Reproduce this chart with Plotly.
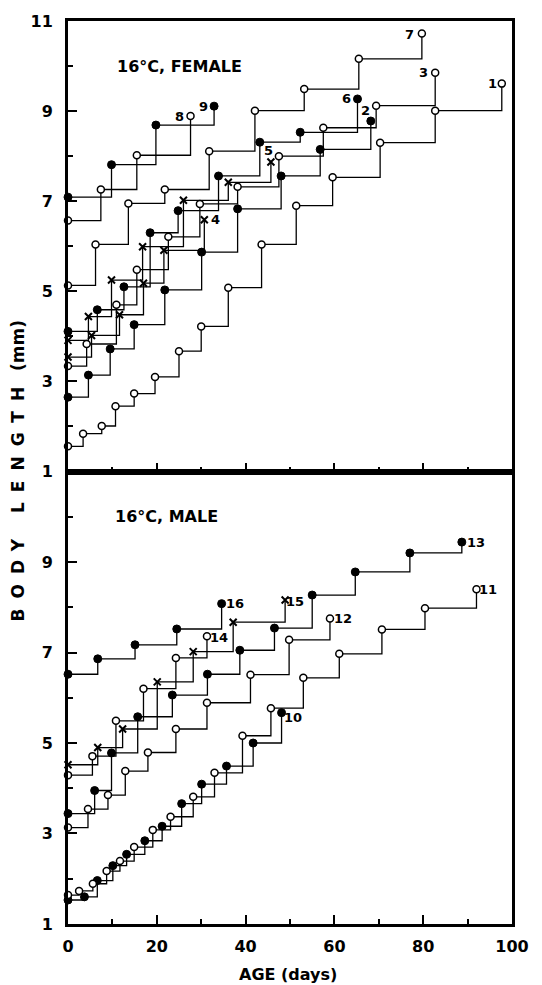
import plotly.graph_objects as go

# ---------------- data ----------------
# 16 C, FEMALE  (age in days, body length in mm)
f1_day = [0, 3.4, 7.6, 10.7, 14.9, 19.6, 25.0, 30.0, 36.1, 43.6, 51.4, 59.6, 70.3, 82.7, 97.7]
f1_len = [1.56, 1.84, 2.01, 2.45, 2.73, 3.10, 3.67, 4.22, 5.08, 6.04, 6.90, 7.53, 8.30, 9.01, 9.61]
f2_day = [0, 4.6, 9.5, 14.9, 21.8, 30.1, 38.2, 48.0, 56.8, 68.2]
f2_len = [2.65, 3.14, 3.72, 4.26, 5.03, 5.87, 6.83, 7.56, 8.15, 8.78]
f3_day = [0, 4.2, 10.9, 15.5, 22.6, 29.7, 38.2, 47.5, 57.5, 69.4, 82.7]
f3_len = [3.34, 3.83, 4.70, 5.48, 6.21, 6.94, 7.32, 8.00, 8.63, 9.12, 9.85]
f4_day = [0, 5.3, 11.6, 17.0, 21.6, 30.7]
f4_len = [3.54, 4.02, 4.48, 5.18, 5.91, 6.59]
f5_day = [0, 4.6, 9.8, 16.8, 26.0, 36.1, 45.7]
f5_len = [3.91, 4.44, 5.25, 5.99, 7.02, 7.42, 7.87]
f6_day = [0, 6.6, 12.6, 18.5, 24.8, 33.9, 43.2, 52.3, 65.2]
f6_len = [4.11, 4.59, 5.10, 6.30, 6.79, 7.56, 8.31, 8.53, 9.27]
f7_day = [0, 6.2, 13.6, 21.8, 31.8, 42.1, 53.2, 65.5, 79.7]
f7_len = [5.13, 6.04, 6.95, 7.26, 8.11, 9.01, 9.49, 10.16, 10.72]
f8_day = [0, 7.4, 15.5, 27.6]
f8_len = [6.57, 7.26, 8.02, 8.89]
f9_day = [0, 9.8, 19.8, 32.9]
f9_len = [7.09, 7.81, 8.69, 9.11]

# 16 C, MALE
m10_day = [0, 3.7, 6.6, 10.1, 13.2, 17.3, 21.2, 25.6, 30.1, 35.7, 41.7, 48.1]
m10_len = [1.53, 1.60, 1.96, 2.29, 2.54, 2.84, 3.16, 3.66, 4.09, 4.49, 5.00, 5.67]
m11_day = [0, 2.5, 5.6, 8.7, 11.7, 14.9, 19.1, 23.1, 28.2, 33.0, 39.3, 45.7, 53.0, 61.1, 70.7, 80.4, 92.0]
m11_len = [1.64, 1.73, 1.89, 2.17, 2.39, 2.70, 3.08, 3.37, 3.81, 4.34, 5.16, 5.77, 6.44, 6.97, 7.51, 7.98, 8.40]
m12_day = [0, 4.5, 9.0, 12.9, 18.0, 24.3, 31.3, 41.1, 49.8, 59.0]
m12_len = [3.13, 3.54, 3.85, 4.38, 4.79, 5.31, 5.89, 6.51, 7.28, 7.75]
m13_day = [0, 6.0, 9.8, 15.7, 23.5, 31.4, 38.7, 46.5, 55.0, 64.7, 77.0, 88.7]
m13_len = [3.44, 3.95, 4.78, 5.58, 6.06, 6.52, 7.05, 7.54, 8.27, 8.78, 9.20, 9.44]
m14_day = [0, 5.5, 10.8, 17.0, 24.3, 31.3]
m14_len = [4.29, 4.71, 5.49, 6.20, 6.88, 7.36]
m15_day = [0, 6.7, 12.3, 20.1, 28.2, 37.2, 48.9]
m15_len = [4.52, 4.90, 5.31, 6.35, 7.02, 7.67, 8.16]
m16_day = [0, 6.7, 15.1, 24.5, 34.6]
m16_len = [6.52, 6.86, 7.17, 7.52, 8.08]

series_labels = ["1", "2", "3", "4", "5", "6", "7", "8", "9",
                 "10", "11", "12", "13", "14", "15", "16"]
x_ticks = [0, 20, 40, 60, 80, 100]
y_ticks = [1, 3, 5, 7, 9, 11]
panel_titles = ["16°C, FEMALE", "16°C, MALE"]

# ---------------- styling ----------------
FONT = "DejaVu Sans"
OPEN = dict(symbol="circle", size=7, color="white", line=dict(color="black", width=1.5))
FILL = dict(symbol="circle", size=8, color="black", line=dict(color="black", width=1))
CROSS = dict(symbol="x-thin", size=7, color="black", line=dict(color="black", width=2))

# (days, lengths, marker, panel, label dx px, label dy px (down +))
series = [
    (f1_day, f1_len, OPEN, 1, -9, 0),
    (f2_day, f2_len, FILL, 1, -5, -11),
    (f3_day, f3_len, OPEN, 1, -12, 0),
    (f4_day, f4_len, CROSS, 1, 11, 0),
    (f5_day, f5_len, CROSS, 1, -2, -12),
    (f6_day, f6_len, FILL, 1, -11, 0),
    (f7_day, f7_len, OPEN, 1, -12, 1),
    (f8_day, f8_len, OPEN, 1, -11, 0),
    (f9_day, f9_len, FILL, 1, -11, 0),
    (m10_day, m10_len, FILL, 2, 11, 5),
    (m11_day, m11_len, OPEN, 2, 12, 0),
    (m12_day, m12_len, OPEN, 2, 13, 0),
    (m13_day, m13_len, FILL, 2, 14, 0),
    (m14_day, m14_len, OPEN, 2, 12, 1),
    (m15_day, m15_len, CROSS, 2, 10, 1),
    (m16_day, m16_len, FILL, 2, 13, 0),
]

fig = go.Figure()
annotations = []
for lab, (d, L, mk, panel, dx, dy) in zip(series_labels, series):
    xa = "x" if panel == 1 else "x2"
    ya = "y" if panel == 1 else "y2"
    fig.add_trace(go.Scatter(
        x=d, y=L, mode="lines+markers", xaxis=xa, yaxis=ya,
        line=dict(color="black", width=1.3, shape="hv"),
        marker=mk, cliponaxis=False, showlegend=False, hoverinfo="x+y"))
    annotations.append(dict(
        x=d[-1], y=L[-1], xref=xa, yref=ya, text=lab, showarrow=False,
        xanchor="center", yanchor="middle", xshift=dx, yshift=-dy,
        font=dict(family=FONT, size=13, color="black", weight="bold")))

annotations.append(dict(x=10.6, y=9.99, xref="x", yref="y", text=panel_titles[0],
                        showarrow=False, xanchor="left", yanchor="middle",
                        font=dict(family=FONT, size=16, color="black", weight="bold")))
annotations.append(dict(x=10.2, y=10.0, xref="x2", yref="y2", text=panel_titles[1],
                        showarrow=False, xanchor="left", yanchor="middle",
                        font=dict(family=FONT, size=16, color="black", weight="bold")))
annotations.append(dict(x=0.495, y=-0.056, xref="paper", yref="paper", text="AGE (days)",
                        showarrow=False, xanchor="center", yanchor="middle",
                        font=dict(family=FONT, size=16, color="black", weight="bold")))
annotations.append(dict(x=-0.113, y=0.502, xref="paper", yref="paper",
                        text='<span style="letter-spacing:10px">BODY LENGTH</span> (mm)',
                        textangle=-90, showarrow=False, xanchor="center", yanchor="middle",
                        font=dict(family=FONT, size=17, color="black", weight="bold")))

tickfont = dict(family=FONT, size=16, color="black", weight="bold")

def yax(domain, tickvals):
    return dict(domain=domain, range=[1, 11], showgrid=False, zeroline=False,
                showline=True, linecolor="black", linewidth=3, mirror=True,
                ticks="inside", ticklen=9, tickwidth=2, tickcolor="black",
                tickvals=tickvals, ticktext=[str(v) for v in tickvals],
                tickfont=tickfont, ticklabelstandoff=9,
                minor=dict(ticks="inside", ticklen=5, tickwidth=2, tickcolor="black",
                           tickvals=[2, 4, 6, 8, 10]))

def xax(anchor, labels):
    return dict(anchor=anchor, range=[0, 100], showgrid=False, zeroline=False,
                showline=True, linecolor="black", linewidth=2.5, mirror=True,
                ticks="inside", ticklen=9, tickwidth=2, tickcolor="black",
                tickvals=x_ticks, ticktext=[str(v) for v in x_ticks],
                showticklabels=labels, tickfont=tickfont, ticklabelstandoff=6,
                minor=dict(ticks="inside", ticklen=5, tickwidth=2, tickcolor="black",
                           tickvals=[10, 30, 50, 70, 90]))

SPLIT = 0.5011
fig.update_layout(
    width=542, height=985,
    margin=dict(l=68, r=30, t=14, b=61),
    paper_bgcolor="white", plot_bgcolor="white",
    xaxis=xax("y", False),
    yaxis=yax([SPLIT, 1], y_ticks),
    xaxis2=xax("y2", True),
    yaxis2=yax([0, SPLIT], y_ticks[:-1]),
    annotations=annotations,
)

fig.write_html("out.html")
